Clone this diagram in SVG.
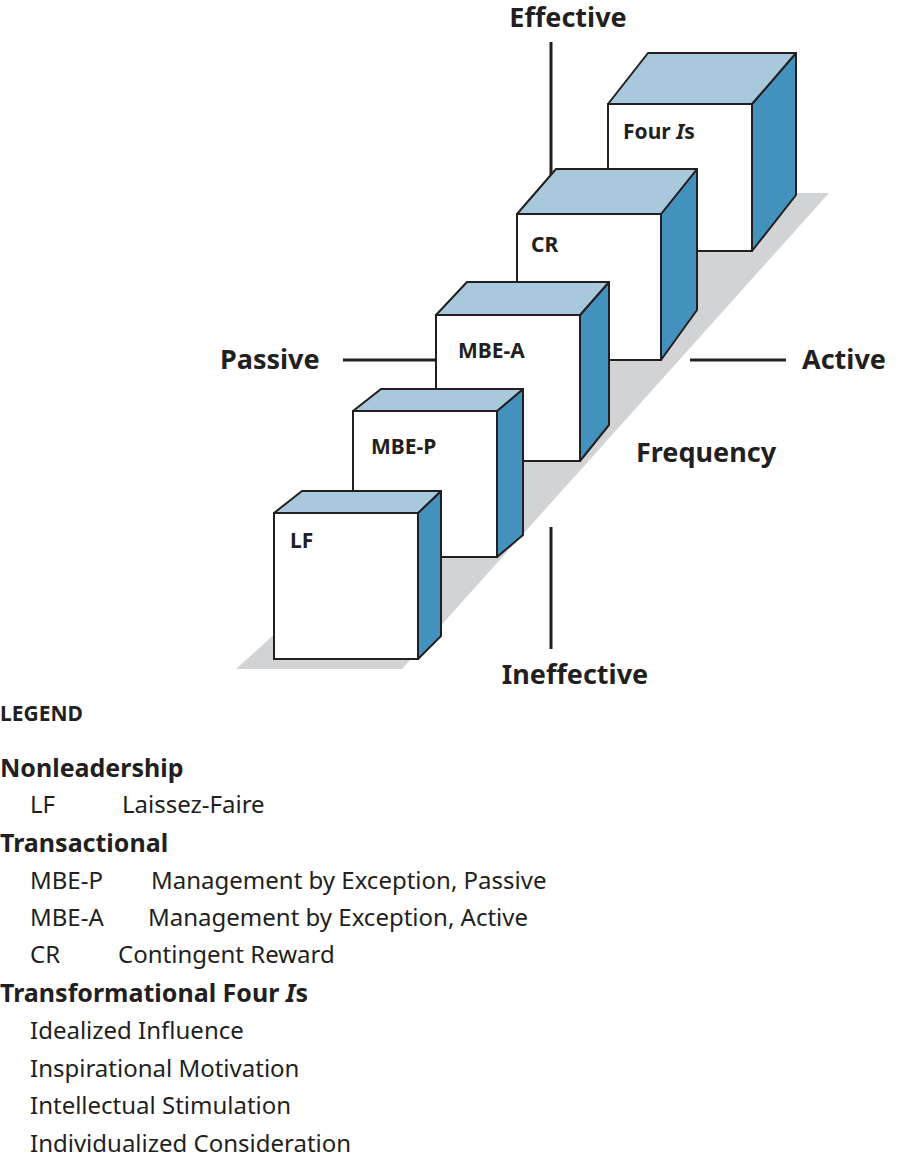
<svg xmlns="http://www.w3.org/2000/svg" width="899" height="1160" viewBox="0 0 899 1160">
<style>
text{font-family:"Noto Sans","Open Sans","Liberation Sans",sans-serif;fill:#231f20}
.ax{font-size:27px;font-weight:bold}
.lb{font-size:21px;font-weight:bold}
.h{font-size:25px;font-weight:bold}
.t{font-size:24px}
.f{fill:#fff;stroke:#231f20;stroke-width:2}
.tp{fill:#a8c8dc;stroke:#231f20;stroke-width:2;stroke-linejoin:round}
.sd{fill:#4392bd;stroke:#231f20;stroke-width:2;stroke-linejoin:round}
.ln{stroke:#231f20;stroke-width:3}
</style>
<polygon points="760,193 829,193 402,669 236,669" fill="#d1d3d5"/>
<g id="connectors">
<line class="ln" x1="551" y1="42" x2="551" y2="190"/>
<line class="ln" x1="551" y1="527" x2="551" y2="649"/>
<line class="ln" x1="343" y1="360" x2="436" y2="360"/>
<line class="ln" x1="690" y1="360" x2="786" y2="360"/>
</g>
<g id="labels">
<text class="ax" x="568" y="27" text-anchor="middle">Effective</text>
<text class="ax" x="220" y="369">Passive</text>
<text class="ax" x="802" y="369">Active</text>
<text class="ax" x="636" y="462">Frequency</text>
<text class="ax" x="575" y="684" text-anchor="middle">Ineffective</text>
</g>
<g id="fouris">
<polygon class="sd" points="752,104 796,53 796,195 752,251"/>
<polygon class="tp" points="608,104 648,53 796,53 752,104"/>
<rect class="f" x="608" y="104" width="144" height="147"/>
<text class="lb" x="623" y="139">Four <tspan font-style="italic">I</tspan>s</text>
</g>
<g id="cr">
<polygon class="sd" points="661,214 697,169 697,310 661,360"/>
<polygon class="tp" points="517,214 556,169 697,169 661,214"/>
<rect class="f" x="517" y="214" width="144" height="146"/>
<text class="lb" x="531" y="252">CR</text>
</g>
<g id="mbea">
<polygon class="sd" points="580,315 609,282 609,425 580,461"/>
<polygon class="tp" points="436,315 467,282 609,282 580,315"/>
<rect class="f" x="436" y="315" width="144" height="146"/>
<text class="lb" x="458" y="358">MBE-A</text>
</g>
<g id="mbep">
<polygon class="sd" points="497,411 523,389 523,535 497,557"/>
<polygon class="tp" points="353,411 381,389 523,389 497,411"/>
<rect class="f" x="353" y="411" width="144" height="146"/>
<text class="lb" x="371" y="454">MBE-P</text>
</g>
<g id="lf">
<polygon class="sd" points="418,513 441,491 441,636 418,659"/>
<polygon class="tp" points="274,513 302,491 441,491 418,513"/>
<rect class="f" x="274" y="513" width="144" height="146"/>
<text class="lb" x="290" y="548">LF</text>
</g>
<g id="legend">
<text class="lb" x="0" y="721" font-size="23">LEGEND</text>
<text class="h" x="0" y="777">Nonleadership</text>
<text class="t" x="30" y="813">LF</text><text class="t" x="122" y="813">Laissez-Faire</text>
<text class="h" x="0" y="852">Transactional</text>
<text class="t" x="30" y="889">MBE-P</text><text class="t" x="151" y="889">Management by Exception, Passive</text>
<text class="t" x="30" y="926">MBE-A</text><text class="t" x="148" y="926">Management by Exception, Active</text>
<text class="t" x="30" y="963">CR</text><text class="t" x="118" y="963">Contingent Reward</text>
<text class="h" x="0" y="1002">Transformational Four <tspan font-style="italic">I</tspan>s</text>
<text class="t" x="30" y="1039">Idealized Influence</text>
<text class="t" x="30" y="1077">Inspirational Motivation</text>
<text class="t" x="30" y="1114">Intellectual Stimulation</text>
<text class="t" x="30" y="1152">Individualized Consideration</text>
</g>
</svg>
